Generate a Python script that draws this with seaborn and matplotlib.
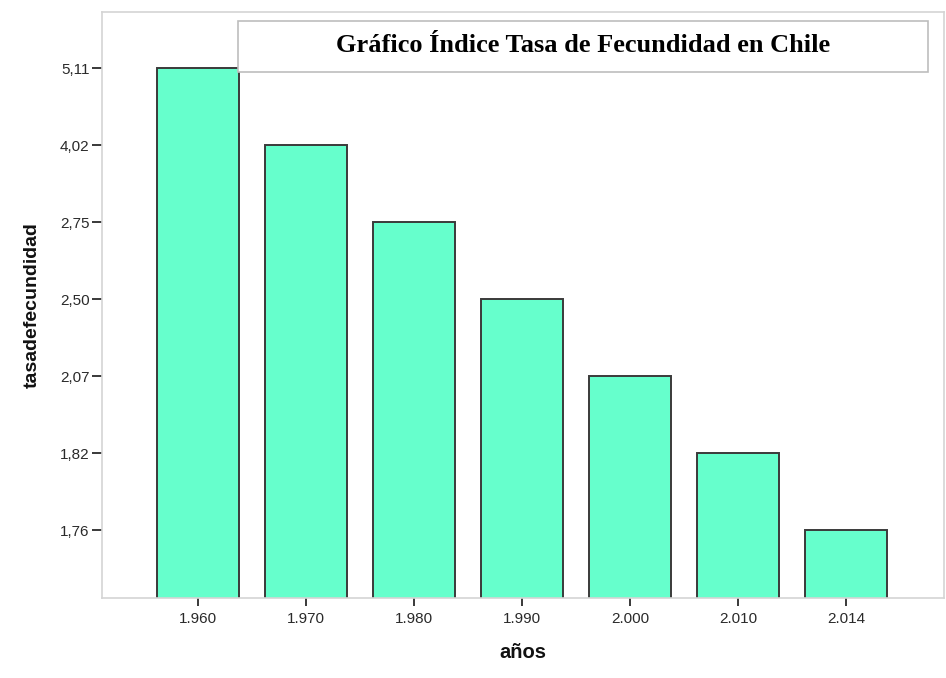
import numpy as np
import pandas as pd
import matplotlib
matplotlib.use("Agg")
import matplotlib.pyplot as plt
import seaborn as sns
from matplotlib.patches import Rectangle

# Datos (eje Y categórico, como en SPSS)
ANIOS = ["1.960", "1.970", "1.980", "1.990", "2.000", "2.010", "2.014"]
TASA = [5.11, 4.02, 2.75, 2.50, 2.07, 1.82, 1.76]
TITULO = "Gráfico Índice Tasa de Fecundidad en Chile"

# cada valor distinto es una categoría del eje Y, ordenada de menor a mayor
niveles = sorted(set(TASA))
etiquetas_y = [f"{v:.2f}".replace(".", ",") for v in niveles]
df = pd.DataFrame({"anio": ANIOS, "tasa": TASA})
df["rango"] = df["tasa"].map({v: i + 1 for i, v in enumerate(niveles)})

sns.set_style("white")
plt.rcParams["font.family"] = ["Liberation Sans", "DejaVu Sans"]

fig = plt.figure(figsize=(9.46, 6.78), dpi=100)
ax = fig.add_axes([0.1078, 0.118, 0.890, 0.864])

sns.barplot(data=df, x="anio", y="rango", order=ANIOS, color="#66FFCC",
            saturation=1, width=0.76, edgecolor="#3a3a3a", linewidth=1.4, ax=ax)

ax.set_xlim(-0.889, 6.907)
ax.set_ylim(0.117, 7.73)
ax.set_yticks(range(1, len(niveles) + 1))
ax.set_yticklabels(etiquetas_y, fontsize=11, color="#2a2a2a")
ax.tick_params(axis="x", labelsize=11, colors="#2a2a2a", length=6, width=1.3,
               direction="out", bottom=True, pad=4)
ax.tick_params(axis="y", length=7, width=1.3, direction="out", left=True, pad=2,
               colors="#2a2a2a")

for lado, sp in ax.spines.items():
    sp.set_visible(True)
    sp.set_color("#d4d4d4")
    sp.set_linewidth(1.2)

ax.set_xlabel("años", fontsize=14.5, fontweight="bold", labelpad=12, color="#111111")
ax.set_ylabel("tasadefecundidad", fontsize=14, fontweight="bold", labelpad=14,
              color="#111111")

# caja del título
caja = Rectangle((238 / 946, 1 - 72 / 678), (928 - 238) / 946, (72 - 21) / 678,
                 transform=fig.transFigure, facecolor="white", edgecolor="#bdbdbd",
                 linewidth=1.2, zorder=5)
fig.patches.append(caja)
fig.text(583 / 946, 1 - 46 / 678, TITULO, ha="center", va="center",
         fontsize=19, fontweight="bold", family=["Liberation Serif", "DejaVu Serif"],
         color="black", zorder=6)

fig.savefig("out.png", dpi=100)
